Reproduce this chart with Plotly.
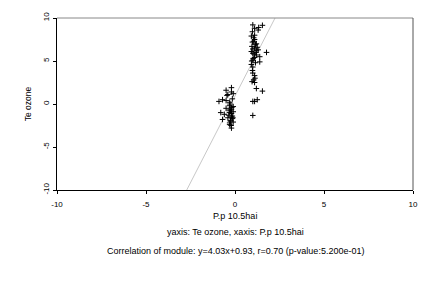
import plotly.graph_objects as go

# Data
cluster_x = [1.54, 1.33, 1.1, 1.0, 0.98, 1.1, 0.92, 1.1, 0.98, 1.2, 1.25, 1.1, 1.0, 1.3, 1.77,
             0.92, 1.0, 1.2, 1.39, 1.1, 1.0, 1.39, 0.92, 1.0, 0.98, 1.1, 1.05, 1.1, 1.2, 1.54,
             1.0, 1.1, 1.25, 1.0, 1.05, 1.15, 0.95, 1.2, 1.08, 1.02, 1.15, 1.0, 1.12, 0.96,
             1.3, 1.05, 1.18, 0.94]
cluster_y = [9.15, 8.9, 8.8, 9.2, 8.4, 8.0, 7.9, 7.5, 7.2, 7.0, 6.6, 6.5, 6.4, 6.3, 6.0,
             6.1, 5.9, 5.7, 5.5, 5.4, 5.1, 4.9, 4.6, 4.3, 3.9, 3.3, 2.8, 2.5, 1.8, 1.5,
             0.3, 0.3, 0.5, -1.33, 7.7, 6.9, 6.7, 6.2, 5.8, 5.3, 4.8, 3.6, 3.0, 2.6,
             8.6, 7.3, 6.0, 5.0]
low_x = [-0.2, -0.5, -0.2, -0.4, -0.1, -0.7, -0.9, -0.5, -0.3, -0.15, -0.3, -0.5, -0.2,
         -0.1, -0.6, -0.3, -0.15, -0.4, -0.7, -0.25, -0.1, -0.3, -0.2, -0.25, -0.2, -0.35,
         -0.15, -0.25, -0.3, -0.2, -0.1, -0.28, -0.18, -0.22, -0.12, -0.32, -0.8, -0.45]
low_y = [1.9, 1.6, 1.4, 1.1, 1.2, 0.5, 0.3, 0.4, 0.2, 0.6, -0.2, -0.5, -0.6,
         -0.3, -1.2, -1.0, -1.4, -1.6, -1.8, -1.9, -2.1, -2.4, -2.8, -0.8, -1.1, -1.3,
         -1.7, -2.0, -2.2, -1.5, -0.9, 0.0, -0.4, -2.5, -1.6, -0.7, -1.0, 1.0]

slope = 4.03
intercept = 0.93
y_range = [-10, 10]
tick_vals = [-10, -5, 0, 5, 10]
tick_text = ["-10", "-5", "0", "5", "10"]

xs = cluster_x + low_x
ys = cluster_y + low_y

line_x = [(y - intercept) / slope for y in y_range]
line_y = y_range

font = "Liberation Sans, Arial, sans-serif"

fig = go.Figure()
fig.add_trace(go.Scatter(x=line_x, y=line_y, mode="lines",
                         line=dict(color="#c8c8c8", width=1), hoverinfo="skip"))
fig.add_trace(go.Scatter(x=xs, y=ys, mode="markers",
                         marker=dict(symbol="cross-thin", size=4,
                                     line=dict(color="black", width=1), color="black")))

fig.update_layout(
    width=432, height=288,
    margin=dict(l=57, r=19, t=13, b=98),
    paper_bgcolor="white", plot_bgcolor="white",
    showlegend=False,
    font=dict(family=font, size=8, color="black"),
    xaxis=dict(range=[-10, 10], tickvals=tick_vals, ticktext=tick_text, showgrid=False,
               zeroline=False, showline=True, linecolor="black", linewidth=1, ticks="outside",
               ticklen=3, tickcolor="black", mirror=False, ticklabelstandoff=3),
    yaxis=dict(range=[-10, 10], tickvals=tick_vals, ticktext=tick_text, showgrid=False,
               zeroline=False, showline=True, linecolor="black", linewidth=1, ticks="outside",
               ticklen=3, tickcolor="black", tickangle=-90, ticklabelstandoff=1,
               title=dict(text="Te ozone", font=dict(size=8.5), standoff=8)),
    shapes=[
        dict(type="line", xref="paper", yref="paper", x0=0, x1=1, y0=1, y1=1,
             line=dict(color="#888888", width=1)),
        dict(type="line", xref="paper", yref="paper", x0=1, x1=1, y0=0, y1=1,
             line=dict(color="#555555", width=1)),
    ],
    annotations=[
        dict(text="P.p 10.5hai", xref="paper", yref="paper", x=0.5, y=0, yanchor="middle",
             yshift=-26, showarrow=False, font=dict(size=9)),
        dict(text="yaxis: Te ozone, xaxis: P.p 10.5hai", xref="paper", yref="paper", x=0.5, y=0,
             yanchor="middle", yshift=-42, showarrow=False, font=dict(size=9)),
        dict(text="Correlation of module: y=4.03x+0.93, r=0.70 (p-value:5.200e-01)", xref="paper",
             yref="paper", x=0.5, y=0, yanchor="middle", yshift=-60.5, showarrow=False,
             font=dict(size=9)),
    ],
)

fig.write_html("out.html")
